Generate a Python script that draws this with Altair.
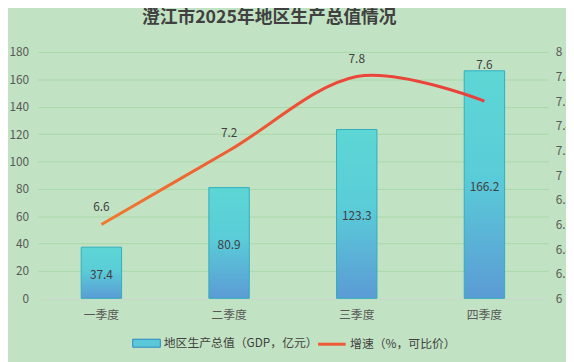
import altair as alt
import pandas as pd

quarters = ["一季度", "二季度", "三季度", "四季度"]
gdp = [37.4, 80.9, 123.3, 166.2]
growth = [6.6, 7.2, 7.8, 7.6]
bar_name = "地区生产总值（GDP，亿元）"
line_name = "增速（%，可比价）"
left_ticks = [0, 20, 40, 60, 80, 100, 120, 140, 160, 180]
right_ticks = [6, 6.2, 6.4, 6.6, 6.8, 7, 7.2, 7.4, 7.6, 7.8, 8]
title_text = "澄江市2025年地区生产总值情况"

df = pd.DataFrame({"q": quarters, "gdp": gdp, "growth": growth})

FONT = "Noto Sans CJK SC"
LABEL = "#595959"
TEXT = "#404040"
GRID = "#A8D7A9"

x = alt.X(
    "q:N", sort=quarters,
    scale=alt.Scale(paddingInner=0, paddingOuter=0),
    axis=alt.Axis(title=None, labelAngle=0, ticks=False, labelPadding=11,
                  domainColor="#D9D9D9", domainWidth=1, labelFontSize=12,
                  labelColor=LABEL, labelFont=FONT),
)

bar_grad = alt.Gradient(
    gradient="linear", x1=0, x2=0, y1=0, y2=1,
    stops=[alt.GradientStop(color="#5DD6D5", offset=0),
           alt.GradientStop(color="#5ACDD8", offset=0.45),
           alt.GradientStop(color="#5B9BD5", offset=1)],
)
line_grad = alt.Gradient(
    gradient="linear", x1=0, x2=1, y1=0, y2=0,
    stops=[alt.GradientStop(color="#F07A2E", offset=0),
           alt.GradientStop(color="#EC4838", offset=0.6),
           alt.GradientStop(color="#E8403C", offset=1)],
)

left_axis = alt.Axis(title=None, values=left_ticks, tickCount=20, ticks=False, domain=False,
                     labelPadding=9, gridColor=GRID, labelColor=LABEL,
                     labelFont=FONT, labelFontSize=12, labelOverlap=False)
left_scale = alt.Scale(domain=[0, 180], nice=False)

right_axis = alt.Axis(title=None, orient="right", values=right_ticks, tickCount=20,
                      format=".2~g", grid=False, ticks=False, domain=False, labelPadding=7,
                      labelColor=LABEL, labelFont=FONT, labelFontSize=12, labelOverlap=False)
right_scale = alt.Scale(domain=[6, 8], nice=False, zero=False)

bars = alt.Chart(df).mark_bar(size=41, fill=bar_grad, stroke="#31AEBE", strokeWidth=1).encode(
    x=x, y=alt.Y("gdp:Q", scale=left_scale, axis=left_axis))
bar_text = alt.Chart(df).transform_calculate(mid="datum.gdp / 2").mark_text(
    font=FONT, fontSize=12, color=TEXT, baseline="middle", dy=2
).encode(x=x, y=alt.Y("mid:Q", scale=left_scale, axis=left_axis),
         text=alt.Text("gdp:Q", format=".1f"))

legend_common = dict(title=None, orient="none", labelFont=FONT, labelFontSize=12,
                     labelColor=TEXT, symbolOpacity=1, labelOffset=3)

bar_leg = alt.Chart(pd.DataFrame({"s": [bar_name]})).mark_point(filled=True, opacity=0).encode(
    color=alt.Color("s:N", scale=alt.Scale(range=["#5AC8D8"]),
                    legend=alt.Legend(legendX=96, legendY=281,
                                      symbolType="M-1,-0.29H1V0.29H-1Z", symbolSize=784,
                                      symbolStrokeColor="#2E86C1", symbolStrokeWidth=1,
                                      **legend_common))
)

left = alt.layer(bars, bar_text, bar_leg)

line = alt.Chart(df).mark_line(interpolate="cardinal", strokeWidth=3, stroke=line_grad).encode(
    x=x, y=alt.Y("growth:Q", scale=right_scale, axis=right_axis))
line_text_a = alt.Chart(df).transform_filter(alt.datum.q != "四季度").mark_text(
    font=FONT, fontSize=12, color=TEXT, dy=-18, baseline="middle"
).encode(x=x, y=alt.Y("growth:Q", scale=right_scale, axis=right_axis),
         text=alt.Text("growth:Q", format=".1f"))
line_text_b = alt.Chart(df).transform_filter(alt.datum.q == "四季度").mark_text(
    font=FONT, fontSize=12, color=TEXT, dy=-37, baseline="middle"
).encode(x=x, y=alt.Y("growth:Q", scale=right_scale, axis=right_axis),
         text=alt.Text("growth:Q", format=".1f"))

line_leg = alt.Chart(pd.DataFrame({"s": [line_name]})).mark_point(filled=False, opacity=0).encode(
    color=alt.Color("s:N", scale=alt.Scale(range=["#EE5A34"]),
                    legend=alt.Legend(legendX=283, legendY=281, symbolType="stroke",
                                      symbolSize=784, symbolStrokeWidth=3,
                                      **legend_common))
)

right = alt.layer(line, line_text_a, line_text_b, line_leg)

chart = alt.layer(left, right).resolve_scale(y="independent", color="independent").properties(
    width=518, height=250,
    title=alt.TitleParams(title_text, font=FONT, fontSize=18, fontWeight="bold", color=TEXT,
                          anchor="middle", frame="group", offset=19, dx=-24),
    padding={"left": 30, "top": 42, "right": 18, "bottom": 62},
    autosize=alt.AutoSizeParams(type="none"),
).configure(background="#C2E3C3").configure_view(stroke=None).configure_axis(
    labelOverlap=False
)

chart.save("out.html", embed_options={"renderer": "svg", "actions": False})
